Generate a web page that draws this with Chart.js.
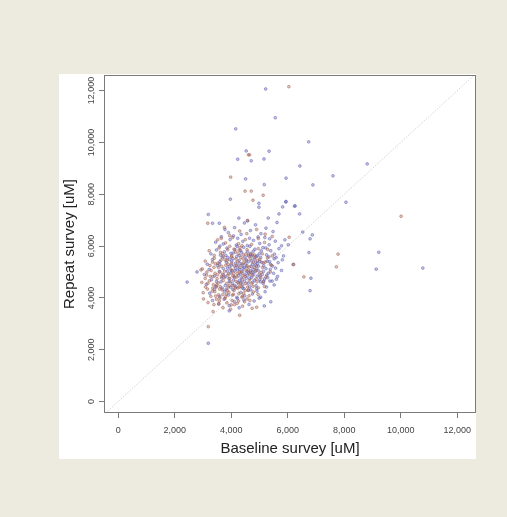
<!DOCTYPE html>
<html>
<head>
<meta charset="utf-8">
<script src="https://cdn.jsdelivr.net/npm/chart.js@4.4.1/dist/chart.umd.min.js"></script>
<style>
  html, body { margin: 0; padding: 0; background: #edeae0; }
  canvas { display: block; }
</style>
</head>
<body>
<canvas id="scatter" width="507" height="517"></canvas>
<script>
// axis ticks (both axes use the same values)
const tickValues = [0, 2000, 4000, 6000, 8000, 10000, 12000];

// y = x reference line, ends beyond both axes and clipped to the plot
const diagonal = [-1000, 13500];

// [baseline, repeat] pairs, blue-ish points
const bluePoints = [
  // scattered high / far values
  [5220,12060],[5560,10950],[4160,10520],[6740,10020],[4530,9670],[5340,9660],[4230,9350],
  [4710,9290],[5160,9360],[6430,9090],[8810,9170],[4510,8590],[5940,8620],[7600,8710],
  [5170,8370],[6890,8360],[3970,7810],[5930,7700],[8060,7690],[4980,7650],[4980,7500],
  [5820,7510],[6240,7540],[6420,7240],[3190,7220],[3340,6880],[3580,6880],[6530,6540],
  [6870,6430],[6790,6280],[6020,6050],[6750,5750],[9220,5760],[9130,5110],[10780,5150],
  [6820,4760],[6790,4280],[6190,5290],[2440,4610],[2790,5000],[3190,2250],[5170,3690],
  [5400,3850],[3930,3500],[4270,7080],[4580,6970],[5310,7080],[5690,7240],[5940,7720],
  [6260,7550],
  // main cloud
  [3900,6520],[4120,6710],[4350,6450],[4680,6600],[4860,6820],[5050,6480],[5230,6690],
  [5480,6560],[3650,6360],[4470,6890],[5620,6910],[4950,6350],[4230,6300],[5360,6280],
  [3780,6640],
  [3450,6150],[3720,6080],[3960,6250],[4180,6040],[4410,6180],[4570,6020],[4790,6220],
  [5010,6100],[5190,6330],[5340,6050],[5560,6190],[5780,6010],[4080,6390],[4650,6300],
  [3600,6000],[5900,6240],
  [3280,5700],[3480,5850],[3620,5650],[3850,5920],[3990,5720],[4130,5860],[4290,5640],
  [4440,5950],[4580,5780],[4720,5610],[4840,5880],[4990,5700],[5120,5940],[5250,5660],
  [5400,5820],[5530,5690],[5690,5900],[5850,5620],[4370,5760],[4660,5990],[4920,5620],
  [5060,5810],[3760,5780],[4210,5980],
  [3150,5300],[3340,5480],[3520,5250],[3690,5560],[3830,5380],[3940,5210],[4060,5520],
  [4160,5340],[4280,5450],[4390,5260],[4490,5580],[4600,5390],[4700,5220],[4810,5500],
  [4930,5330],[5040,5560],[5150,5240],[5270,5420],[5390,5300],[5520,5510],[5660,5360],
  [5810,5470],[4530,5470],[4750,5300],[4880,5590],[5010,5410],[4240,5230],[3600,5400],
  [4020,5420],[5330,5580],
  [3050,4900],[3220,5100],[3410,4850],[3580,5020],[3730,4890],[3870,5150],[3990,4960],
  [4100,4820],[4220,5080],[4330,4930],[4460,5170],[4570,4860],[4680,5040],[4790,4900],
  [4900,5120],[5020,4840],[5140,5020],[5260,4880],[5380,5100],[5500,4950],[5640,4830],
  [5780,5060],[4400,5020],[4620,4960],[4850,5010],[4150,5160],[3800,4810],
  [3120,4520],[3300,4700],[3460,4450],[3640,4620],[3790,4480],[3920,4740],[4040,4550],
  [4170,4420],[4290,4680],[4410,4500],[4530,4760],[4650,4430],[4760,4600],[4880,4470],
  [5010,4700],[5130,4560],[5250,4420],[5370,4650],[5520,4500],[4720,4790],[4350,4610],
  [3980,4410],[5600,4720],
  [3240,4180],[3410,4330],[3590,4060],[3760,4250],[3900,4110],[4060,4320],[4200,4020],
  [4340,4210],[4480,4080],[4610,4300],[4750,4150],[4900,4360],[5040,4030],[5200,4240],
  [4400,4380],[3680,4380],
  [3340,3900],[3560,3760],[3750,3950],[3930,3700],[4110,3860],[4280,3620],[4450,3920],
  [4630,3750],[4810,3880],[4990,3990],[4220,3980],
  // dense core
  [3720,5130],[3810,5640],[3930,4620],[4010,5270],[4080,4690],[4130,5050],[4190,5590],
  [4260,4860],[4310,5330],[4360,4770],[4420,5140],[4470,4640],[4510,5310],[4560,5010],
  [4610,5650],[4660,4750],[4710,5430],[4770,5110],[4820,4680],[4870,5380],[4920,4830],
  [4970,5230],[5030,4620],[5080,5370],[5180,4730],[5230,5130],[5310,4950],[5460,5230],
  [3860,5030],[3940,5480],[4070,5730],[4240,4600],[4480,4910],[4540,5200],[4690,5680],
  [4760,4990],[4960,5050],[5100,4900],[5350,5400],[5570,5150],[3660,4770],[3820,4330],
  [4120,4480],[4450,4360],[4690,4310],[4910,4260],[5150,4650],[5290,4780],[3590,5300],
  [3870,5560],[4330,5830],[4780,5800],[5220,5930],[5590,5560],[3480,4630],[4600,4570],
  [4300,5100],[4000,5050],[4850,5260],[5450,4650]
];

// [baseline, repeat] pairs, red-ish points
const redPoints = [
  // scattered high / far values
  [6040,12150],[4610,9520],[4650,9520],[3980,8660],[4490,8120],[4710,8120],[5130,7960],
  [4770,7770],[10010,7150],[3170,6880],[6050,6340],[7780,5690],[7720,5200],[6570,4810],
  [6210,5290],[2930,5080],[3190,2890],[4900,3640],[4300,3330],[3360,3470],
  // main cloud
  [3760,6720],[4300,6580],[4580,6990],[4900,6640],[5200,6460],[3950,6400],[4550,6480],
  [3520,6240],[3800,6120],[4050,6330],[4260,6090],[4500,6250],[4720,6060],[4960,6290],
  [5180,6140],[5450,6370],[4380,6010],[3650,6300],
  [3220,5820],[3400,5640],[3570,5930],[3700,5710],[3880,5860],[4020,5620],[4160,5770],
  [4310,5940],[4420,5660],[4560,5860],[4690,5720],[4820,5660],[4960,5900],[5100,5700],
  [5290,5870],[5450,5620],[3950,5990],[4250,5700],[4620,5610],
  [3080,5420],[3250,5250],[3400,5530],[3530,5340],[3660,5220],[3780,5470],[3890,5300],
  [4000,5580],[4110,5230],[4230,5400],[4340,5560],[4450,5370],[4560,5240],[4670,5510],
  [4780,5380],[4900,5230],[5010,5490],[5130,5350],[5280,5550],[5420,5260],[3720,5600],
  [4170,5500],[4420,5500],[4840,5560],[3340,5380],
  [2980,5120],[3130,4880],[3290,5060],[3430,4950],[3550,5170],[3660,4830],[3770,5030],
  [3880,4880],[3990,5110],[4090,4940],[4200,4810],[4310,5180],[4420,4860],[4530,5060],
  [4640,5190],[4750,4870],[4870,5060],[4990,4920],[5110,5170],[5230,4810],[5380,5000],
  [3600,5000],[4050,5050],[4360,5000],[4700,4990],[3350,4820],
  [2960,4600],[3090,4420],[3230,4660],[3370,4510],[3500,4740],[3610,4440],[3720,4670],
  [3840,4560],[3950,4760],[4060,4470],[4170,4640],[4290,4420],[4400,4720],[4520,4560],
  [4640,4680],[4770,4450],[4910,4620],[5050,4780],[5180,4440],[3540,4580],[3890,4420],
  [4250,4540],[4580,4420],
  [3010,4200],[3160,4340],[3280,4060],[3420,4240],[3550,4120],[3680,4310],[3800,4040],
  [3920,4220],[4040,4110],[4150,4380],[4270,4160],[4380,4030],[4500,4290],[4630,4080],
  [4780,4230],[4950,4130],[3350,4380],[3600,4000],[4100,4290],
  [3020,3960],[3180,3820],[3390,3740],[3580,3880],[3710,3620],[3850,3810],[3980,3560],
  [4120,3740],[4260,3880],[4400,3680],[4560,3960],[4740,3600],[3480,3950],[4030,3900],
  // dense core
  [3260,4830],[3330,4260],[3390,5180],[3470,4420],[3520,4890],[3590,4340],[3640,5460],
  [3700,4130],[3750,4790],[3810,5260],[3860,4290],[3910,4930],[3970,4630],[4020,5340],
  [4080,4140],[4130,4790],[4180,5260],[4240,4380],[4290,4990],[4340,4570],[4390,5310],
  [4440,4180],[4490,4830],[4540,5440],[4600,4290],[4660,4910],[4720,4560],[4810,5180],
  [4880,4730],[4960,4390],[5060,4980],[5140,4620],[3170,4560],[3450,4070],[3560,3780],
  [3780,3980],[4000,3730],[4210,3790],[4350,4450],[4470,3850],[4660,3900],[3080,4750],
  [3140,5000],[3440,5320],[3620,5760],[3850,5450],[4100,5880],[4280,5840],[4520,5700],
  [4750,5650],[4930,5450],[5200,5380],[3490,4500],[3930,4470],[4210,4940],[4600,5080],
  [4060,4850],[3700,4920],[4400,4070],[3830,4150]
];

const toXY = arr => arr.map(p => ({ x: p[0], y: p[1] }));

// white panel behind the plot + the box round the plot area
const panelPlugin = {
  id: 'panel',
  beforeDraw(chart) {
    const ctx = chart.ctx;
    ctx.save();
    ctx.fillStyle = '#ffffff';
    ctx.fillRect(59, 74, 417, 385);
    ctx.restore();
  },
  afterDraw(chart) {
    const a = chart.chartArea;
    const ctx = chart.ctx;
    ctx.save();
    ctx.strokeStyle = '#7a7a7a';
    ctx.lineWidth = 1;
    ctx.strokeRect(a.left + 0.5, a.top + 0.5, a.right - a.left - 1, a.bottom - a.top - 1);
    ctx.restore();
  }
};

const fmt = v => v.toLocaleString('en-US');

const axisCommon = {
  type: 'linear',
  afterBuildTicks: s => { s.ticks = tickValues.map(v => ({ value: v })); },
  grid: { drawOnChartArea: false, drawTicks: true, tickLength: 5, color: '#7a7a7a' },
  border: { display: false },
};

new Chart(document.getElementById('scatter'), {
  type: 'scatter',
  data: {
    datasets: [
      {
        label: 'Red',
        data: toXY(redPoints),
        backgroundColor: 'rgba(180,115,100,0.42)',
        borderColor: 'rgba(150,80,65,0.6)',
        borderWidth: 0.7,
        pointRadius: 1.4
      },
      {
        label: 'Blue',
        data: toXY(bluePoints),
        backgroundColor: 'rgba(115,115,195,0.42)',
        borderColor: 'rgba(75,75,165,0.6)',
        borderWidth: 0.7,
        pointRadius: 1.4
      },
      {
        label: 'y = x',
        type: 'line',
        data: diagonal.map(v => ({ x: v, y: v })),
        borderColor: 'rgba(195,195,195,0.9)',
        borderDash: [1.5, 1.5],
        borderWidth: 0.8,
        pointRadius: 0,
        fill: false
      }
    ]
  },
  options: {
    responsive: false,
    animation: false,
    layout: { padding: { left: 61, top: 75, right: 31, bottom: 59 } },
    plugins: { legend: { display: false }, tooltip: { enabled: false } },
    scales: {
      x: {
        ...axisCommon,
        min: -500,
        max: 12660,
        afterFit: s => { s.height = 45; },
        ticks: {
          callback: fmt,
          font: { family: 'Liberation Sans, Arial, sans-serif', size: 9 },
          color: '#444',
          padding: 7,
          maxRotation: 0
        },
        title: {
          display: true,
          text: 'Baseline survey [uM]',
          font: { family: 'Liberation Sans, Arial, sans-serif', size: 15 },
          color: '#222',
          padding: 0
        }
      },
      y: {
        ...axisCommon,
        min: -440,
        max: 12600,
        afterFit: s => { s.width = 43; },
        ticks: {
          callback: fmt,
          font: { family: 'Liberation Sans, Arial, sans-serif', size: 9 },
          color: '#444',
          padding: -6,
          minRotation: 90,
          maxRotation: 90,
          crossAlign: 'center'
        },
        title: {
          display: true,
          text: 'Repeat survey [uM]',
          font: { family: 'Liberation Sans, Arial, sans-serif', size: 15 },
          color: '#222',
          padding: 0
        }
      }
    }
  },
  plugins: [panelPlugin]
});
</script>
</body>
</html>
